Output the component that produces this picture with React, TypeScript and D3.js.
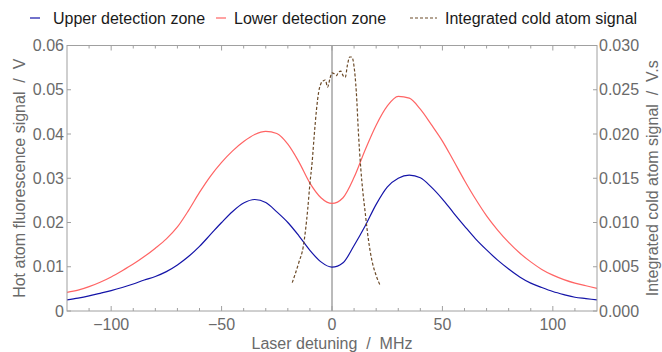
import { useEffect, useRef } from "react";
import * as d3 from "d3";

// detuning grid for the two hot-atom traces (MHz)
const detuning = d3.range(-120, 121, 5);

const upperZone = [
  0.0025, 0.0029, 0.0034, 0.004, 0.0046, 0.0053, 0.0061, 0.007, 0.0078, 0.0089,
  0.0104, 0.0123, 0.0146, 0.0173, 0.02, 0.0225, 0.0244, 0.0252, 0.0245, 0.0224,
  0.02, 0.017, 0.0137, 0.0111, 0.0099, 0.0109, 0.0148, 0.0192, 0.0241, 0.028,
  0.03, 0.0307, 0.0301, 0.028, 0.0253, 0.0222, 0.0192, 0.0163, 0.0138, 0.0115,
  0.0095, 0.0077, 0.0063, 0.0053, 0.0044, 0.0037, 0.0031, 0.0028, 0.0025,
];

const lowerZone = [
  0.0042, 0.0047, 0.0055, 0.0065, 0.0077, 0.0091, 0.0106, 0.0123, 0.0142, 0.0163,
  0.019, 0.0227, 0.0268, 0.0305, 0.0336, 0.0362, 0.0383, 0.0399, 0.0406, 0.0401,
  0.0377, 0.0337, 0.0289, 0.0256, 0.0243, 0.0256, 0.0302, 0.0364, 0.042, 0.0463,
  0.0485, 0.0481, 0.0456, 0.0421, 0.0384, 0.034, 0.0295, 0.0253, 0.0215, 0.0183,
  0.0155, 0.0131, 0.0111, 0.0094, 0.0081, 0.0071, 0.0063, 0.0057, 0.0051,
];

// integrated cold atom signal (right axis, V.s)
const coldX = [
  -18, -15, -13, -11, -10, -9, -8, -7, -6, -5, -4, -3, -2, -1, 0, 1, 2, 3, 4, 5,
  6, 7, 8, 9, 10, 11, 12, 13, 14, 15, 16, 17, 18, 20, 22,
];
const coldY = [
  0.0032, 0.0055, 0.0073, 0.0115, 0.0144, 0.0168, 0.02, 0.0228, 0.0248, 0.0257,
  0.026, 0.0261, 0.0253, 0.0262, 0.0269, 0.0268, 0.0266, 0.027, 0.0271, 0.0266,
  0.0264, 0.0278, 0.0287, 0.0287, 0.0276, 0.0248, 0.02, 0.0162, 0.0134, 0.0112,
  0.009, 0.0072, 0.0058, 0.004, 0.0028,
];

const xTickLabels = [-100, -50, 0, 50, 100];
const leftTickLabels = [0, 0.01, 0.02, 0.03, 0.04, 0.05, 0.06];
const rightTickLabels = [0, 0.005, 0.01, 0.015, 0.02, 0.025, 0.03];

const W = 662;
const H = 352;
const FONT = "'Liberation Sans', Arial, sans-serif";

export default function App() {
  const ref = useRef<SVGSVGElement | null>(null);

  useEffect(() => {
    const svg = d3.select(ref.current);
    svg.selectAll("*").remove();

    const left = 67,
      right = 597,
      top = 45.5,
      bottom = 311;

    const x = d3.scaleLinear().domain([-120, 120]).range([left, right]);
    const yL = d3.scaleLinear().domain([0, 0.06]).range([bottom, top]);
    const yR = d3.scaleLinear().domain([0, 0.03]).range([bottom, top]);

    const axisColor = "#a0a0a0";
    const labelColor = "#6a6a6a";

    const plot = svg.append("g");

    // zero line
    plot
      .append("line")
      .attr("x1", x(0))
      .attr("x2", x(0))
      .attr("y1", top)
      .attr("y2", bottom)
      .attr("stroke", "#777")
      .attr("stroke-width", 1);

    const hotLine = (vals: number[]) =>
      d3
        .line<number>()
        .x((_, i) => x(detuning[i]))
        .y((d) => yL(d))
        .curve(d3.curveMonotoneX)(vals);

    plot
      .append("path")
      .attr("d", hotLine(lowerZone))
      .attr("fill", "none")
      .attr("stroke", "#ff6464")
      .attr("stroke-width", 1.2);

    plot
      .append("path")
      .attr("d", hotLine(upperZone))
      .attr("fill", "none")
      .attr("stroke", "#1414a8")
      .attr("stroke-width", 1.2);

    const coldLine = d3
      .line<number>()
      .x((_, i) => x(coldX[i]))
      .y((d) => yR(d))
      .curve(d3.curveMonotoneX);

    plot
      .append("path")
      .attr("d", coldLine(coldY))
      .attr("fill", "none")
      .attr("stroke", "#6b4a28")
      .attr("stroke-width", 1.2)
      .attr("stroke-dasharray", "3,2");

    // frame
    const frame = svg.append("g").attr("stroke", axisColor).attr("stroke-width", 1);
    frame
      .append("rect")
      .attr("x", left)
      .attr("y", top)
      .attr("width", right - left)
      .attr("height", bottom - top)
      .attr("fill", "none");

    // x ticks (bottom and top), minor every 10
    const xMinor = d3.range(-110, 111, 10);
    xMinor.forEach((v) => {
      const len = v % 50 === 0 ? 5 : 3;
      frame
        .append("line")
        .attr("x1", x(v))
        .attr("x2", x(v))
        .attr("y1", bottom)
        .attr("y2", bottom - len);
      frame
        .append("line")
        .attr("x1", x(v))
        .attr("x2", x(v))
        .attr("y1", top)
        .attr("y2", top + len);
    });

    leftTickLabels.forEach((v) => {
      frame
        .append("line")
        .attr("x1", left)
        .attr("x2", left + 4)
        .attr("y1", yL(v))
        .attr("y2", yL(v));
    });
    rightTickLabels.forEach((v) => {
      frame
        .append("line")
        .attr("x1", right)
        .attr("x2", right - 4)
        .attr("y1", yR(v))
        .attr("y2", yR(v));
    });

    const text = svg
      .append("g")
      .attr("font-family", FONT)
      .attr("font-size", 16)
      .attr("fill", labelColor);

    text
      .selectAll(".xt")
      .data(xTickLabels)
      .join("text")
      .attr("x", (d) => x(d))
      .attr("y", 330)
      .attr("text-anchor", "middle")
      .text((d) => (d < 0 ? "\u2212" + Math.abs(d) : String(d)));

    text
      .selectAll(".yl")
      .data(leftTickLabels)
      .join("text")
      .attr("x", 64)
      .attr("y", (d) => yL(d))
      .attr("dy", "0.35em")
      .attr("text-anchor", "end")
      .text((d) => (d === 0 ? "0" : d.toFixed(2)));

    text
      .selectAll(".yr")
      .data(rightTickLabels)
      .join("text")
      .attr("x", 599)
      .attr("y", (d) => yR(d))
      .attr("dy", "0.35em")
      .attr("text-anchor", "start")
      .text((d) => d.toFixed(3));

    text
      .append("text")
      .attr("x", (left + right) / 2)
      .attr("y", 349)
      .attr("text-anchor", "middle")
      .attr("xml:space", "preserve")
      .text("Laser detuning  /  MHz");

    text
      .append("text")
      .attr("transform", `translate(25,${(top + bottom) / 2}) rotate(-90)`)
      .attr("text-anchor", "middle")
      .attr("xml:space", "preserve")
      .text("Hot atom fluorescence signal  /  V");

    text
      .append("text")
      .attr("transform", `translate(658,${(top + bottom) / 2}) rotate(-90)`)
      .attr("text-anchor", "middle")
      .attr("xml:space", "preserve")
      .text("Integrated cold atom signal  /  V.s");

    // legend
    const legendItems = [
      { label: "Upper detection zone", color: "#1414a8", dash: null, x0: 30, x1: 40, tx: 53 },
      { label: "Lower detection zone", color: "#ff6464", dash: null, x0: 216, x1: 226, tx: 234 },
      { label: "Integrated cold atom signal", color: "#6b4a28", dash: "3,2", x0: 410, x1: 437, tx: 445 },
    ];
    const ly = 18;
    const legend = svg.append("g");
    legendItems.forEach((it) => {
      legend
        .append("line")
        .attr("x1", it.x0)
        .attr("x2", it.x1)
        .attr("y1", ly)
        .attr("y2", ly)
        .attr("stroke", it.color)
        .attr("stroke-width", 1.2)
        .attr("stroke-dasharray", it.dash);
      legend
        .append("text")
        .attr("x", it.tx)
        .attr("y", ly)
        .attr("dy", "0.35em")
        .attr("font-family", FONT)
        .attr("font-size", 16)
        .attr("fill", "#1a1a1a")
        .text(it.label);
    });
  }, []);

  return (
    <div style={{ position: "absolute", left: 0, top: 0, width: W, height: H, background: "#fff" }}>
      <svg ref={ref} width={W} height={H} style={{ display: "block" }} />
    </div>
  );
}
